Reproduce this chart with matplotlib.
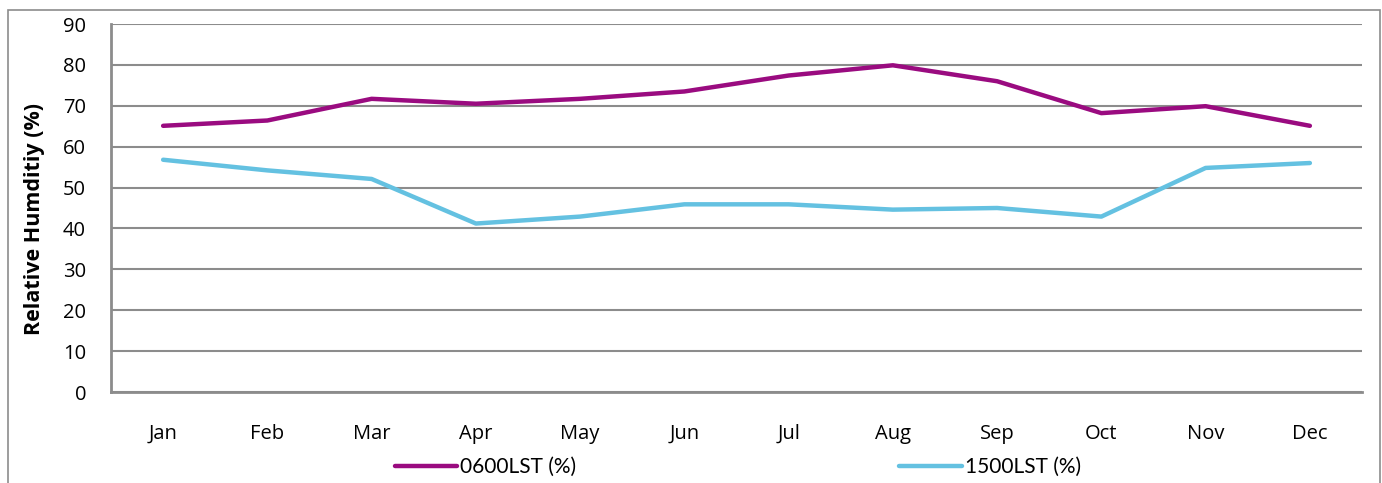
import matplotlib
matplotlib.use("Agg")
import matplotlib.pyplot as plt
from matplotlib.patches import Rectangle

months = ["Jan", "Feb", "Mar", "Apr", "May", "Jun",
          "Jul", "Aug", "Sep", "Oct", "Nov", "Dec"]
rh_0600 = [65.1, 66.4, 71.7, 70.5, 71.7, 73.5, 77.4, 79.9, 76.0, 68.2, 69.9, 65.1]
rh_1500 = [56.8, 54.2, 52.1, 41.2, 42.9, 45.9, 45.9, 44.6, 45.0, 42.9, 54.8, 56.0]
series_names = ["0600LST (%)", "1500LST (%)"]
y_ticks = [0, 10, 20, 30, 40, 50, 60, 70, 80, 90]

W, H = 1382, 483
fig = plt.figure(figsize=(W / 100, H / 100), dpi=100)
fig.patch.set_facecolor("white")

# outer chart frame
fig.patches.append(Rectangle((8 / W, -0.1), (1380 - 8) / W, 1.1 - 10 / H,
                             transform=fig.transFigure, fill=False,
                             edgecolor="#8c8c8c", linewidth=1.2))

ax = fig.add_axes([111 / W, (H - 392) / H, (1362 - 111) / W, (392 - 24) / H])
x = range(len(months))
ax.plot(x, rh_0600, color="#9a0b80", linewidth=3.2, solid_capstyle="round",
        label=series_names[0], zorder=3)
ax.plot(x, rh_1500, color="#64c1e1", linewidth=3.2, solid_capstyle="round",
        label=series_names[1], zorder=3)

ax.set_xlim(-0.5, len(months) - 0.5)
ax.set_ylim(0, 90)
ax.set_yticks(y_ticks)
ax.set_xticks(list(x))
ax.set_xticklabels(months)
ax.yaxis.grid(True, color="#8c8c8c", linewidth=1.5)
ax.set_axisbelow(True)
for s in ["top", "right"]:
    ax.spines[s].set_visible(False)
for s in ["left", "bottom"]:
    ax.spines[s].set_color("#8c8c8c")
    ax.spines[s].set_linewidth(2)
ax.tick_params(axis="both", length=0, labelsize=14.5, colors="black")
ax.tick_params(axis="y", pad=18)
ax.tick_params(axis="x", pad=23)
for lbl in ax.get_xticklabels() + ax.get_yticklabels():
    lbl.set_fontfamily("Open Sans")

ax.set_ylabel("Relative Humditiy (%)", fontsize=15.5, fontweight="bold",
              fontfamily="Open Sans")
ax.yaxis.set_label_coords(-66 / (1362 - 111), 0.47)

leg = ax.legend(loc="center", bbox_to_anchor=(738 / W, (H - 467) / H),
                bbox_transform=fig.transFigure, ncol=2, frameon=False,
                handlelength=3.0, handletextpad=0.15, columnspacing=15.5,
                prop={"family": "Lato", "size": 15})

fig.savefig("out.png", dpi=100, facecolor="white")
